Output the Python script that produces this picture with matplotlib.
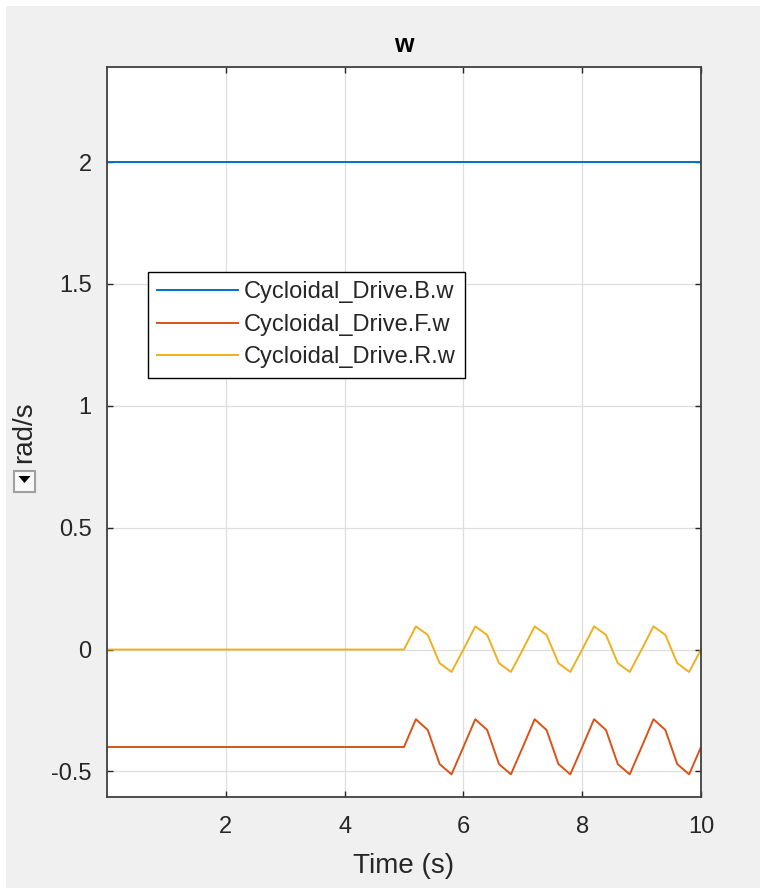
import matplotlib
matplotlib.use('Agg')
import matplotlib.pyplot as plt
from matplotlib.patches import Rectangle, Polygon

# sample times (s) and angular speeds (rad/s)
time = [0, 5.0, 5.2, 5.4, 5.6, 5.8, 6.0, 6.2, 6.4, 6.6, 6.8, 7.0, 7.2, 7.4,
        7.6, 7.8, 8.0, 8.2, 8.4, 8.6, 8.8, 9.0, 9.2, 9.4, 9.6, 9.8, 10.0]
wB = [2.0] * len(time)
wF = [-0.4, -0.4,
      -0.286, -0.33, -0.47, -0.512, -0.4,
      -0.286, -0.33, -0.47, -0.512, -0.4,
      -0.286, -0.33, -0.47, -0.512, -0.4,
      -0.286, -0.33, -0.47, -0.512, -0.4,
      -0.286, -0.33, -0.47, -0.512, -0.4]
wR = [0.0, 0.0,
      0.095, 0.06, -0.056, -0.092, 0.0,
      0.095, 0.06, -0.056, -0.092, 0.0,
      0.095, 0.06, -0.056, -0.092, 0.0,
      0.095, 0.06, -0.056, -0.092, 0.0,
      0.095, 0.06, -0.056, -0.092, 0.0]

series_names = ['Cycloidal_Drive.B.w', 'Cycloidal_Drive.F.w', 'Cycloidal_Drive.R.w']
series_colors = ['#0072BD', '#D95319', '#EDB120']

xticks = [2, 4, 6, 8, 10]
yticks = [-0.5, 0, 0.5, 1, 1.5, 2]
ytick_labels = ['-0.5', '0', '0.5', '1', '1.5', '2']

plt.rcParams['font.family'] = ['Liberation Sans', 'DejaVu Sans']

W, H = 760, 888
fig = plt.figure(figsize=(W / 100, H / 100), dpi=100, facecolor='#f0f0f0')

# thin white strip on left and top edge, like the screenshot
fig.patches.append(Rectangle((0, 0), 6 / W, 1, transform=fig.transFigure,
                             facecolor='white', edgecolor='none'))
fig.patches.append(Rectangle((0, 1 - 6 / H), 1, 6 / H, transform=fig.transFigure,
                             facecolor='white', edgecolor='none'))

ax = fig.add_axes([107 / W, 91 / H, 594 / W, 730 / H])
ax.set_facecolor('white')

for y, name, c in zip([wB, wF, wR], series_names, series_colors):
    ax.plot(time, y, color=c, lw=1.4, label=name)

ax.set_xlim(0, 10)
ax.set_ylim(-0.605, 2.39)
ax.set_xticks(xticks)
ax.set_xticklabels([str(t) for t in xticks])
ax.set_yticks(yticks)
ax.set_yticklabels(ytick_labels)

ax.grid(True, color='#dedede', lw=0.9)
ax.set_axisbelow(True)
for s in ax.spines.values():
    s.set_color('#404040')
    s.set_linewidth(1.3)
ax.tick_params(direction='in', length=4, width=1, color='#262626',
               top=True, right=True, labelsize=17, labelcolor='#262626')
ax.tick_params(axis='x', pad=14)
ax.tick_params(axis='y', pad=11)

ax.set_title('w', fontsize=18, fontweight='bold', y=(797 - 45) / 730, pad=0,
             va='center', color='black')

ax.set_xlabel('Time (s)', fontsize=20, color='#262626', va='center')
ax.xaxis.set_label_coords(0.5, (797 - 866) / 730)
ax.set_ylabel('rad/s', fontsize=20, color='#262626', va='center')
ax.yaxis.set_label_coords((24 - 107) / 594, 0.5)

leg = ax.legend(loc='upper left', bbox_to_anchor=((148 - 107) / 594, (797 - 272) / 730),
                borderaxespad=0, fontsize=17, fancybox=False, framealpha=1,
                edgecolor='black', handlelength=3.4, handletextpad=0.25,
                borderpad=0.4, labelspacing=0.44)
leg.get_frame().set_linewidth(1.0)
for t in leg.get_texts():
    t.set_color('#262626')

# little dropdown icon under the y label
x0, y0, sz = 14 / W, 1 - 492 / H, 21
fig.patches.append(Rectangle((x0, y0), sz / W, sz / H, transform=fig.transFigure,
                             facecolor='#fafafa', edgecolor='#a0a0a0', lw=1.5))
cx, cy = (14 + 10.5) / W, 1 - 479 / H
fig.patches.append(Polygon([(cx - 6 / W, cy + 3 / H), (cx + 6 / W, cy + 3 / H),
                            (cx, cy - 4 / H)], closed=True,
                           transform=fig.transFigure, facecolor='black', edgecolor='none'))

fig.savefig('out.png', dpi=100, facecolor=fig.get_facecolor())
